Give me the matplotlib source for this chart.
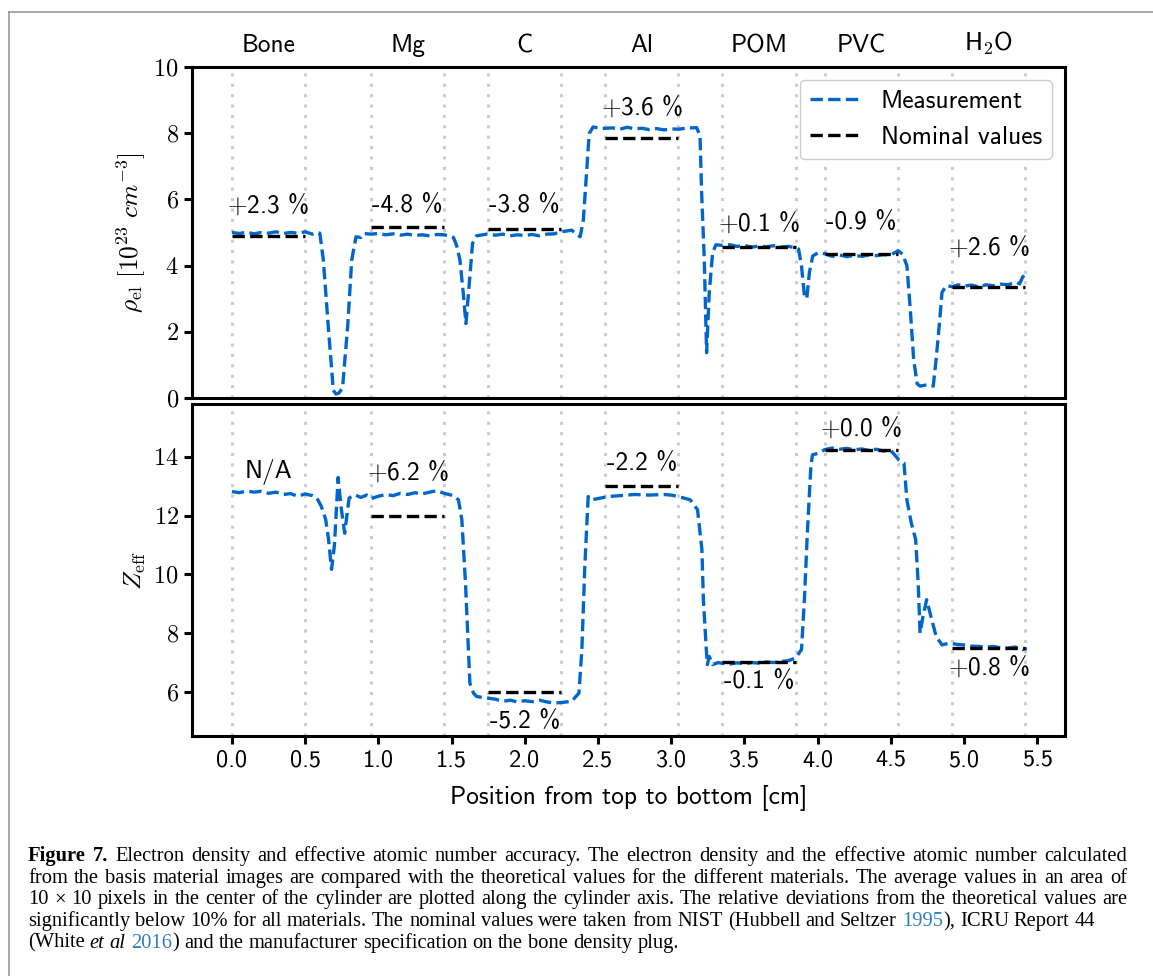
import numpy as np
import matplotlib
matplotlib.use("Agg")
import matplotlib.pyplot as plt
from matplotlib.ticker import FuncFormatter
from matplotlib.lines import Line2D

plt.rcParams['mathtext.fontset'] = 'cm'
plt.rcParams['font.family'] = ['cmss10', 'DejaVu Sans']
plt.rcParams['axes.unicode_minus'] = False

# material slabs along the cylinder axis [cm]
materials = ['Bone', 'Mg', 'C', 'Al', 'POM', 'PVC', r'H$_\mathsf{2}$O']
seg_start = np.array([0.0, 0.95, 1.75, 2.55, 3.35, 4.05, 4.92])
seg_end = seg_start + 0.5

rho_nominal = [4.89, 5.18, 5.12, 7.87, 4.57, 4.34, 3.36]
z_nominal = [np.nan, 12.0, 6.0, 13.0, 7.03, 14.23, 7.51]

rho_dev = ['+2.3 %', '-4.8 %', '-3.8 %', '+3.6 %', '+0.1 %', '-0.9 %', '+2.6 %']
z_dev = ['N/A', '+6.2 %', '-5.2 %', '-2.2 %', '-0.1 %', '+0.0 %', '+0.8 %']
rho_dev_y = [5.83, 5.83, 5.83, 8.79, 5.29, 5.29, 4.56]
z_dev_y = [13.48, 13.48, 5.0, 13.76, 6.37, 15.0, 6.85]

x_rho = [0.00, 0.05, 0.10, 0.15, 0.20, 0.25, 0.30, 0.35, 0.40, 0.45, 0.50, 0.55, 0.58, 0.60,
         0.624, 0.658, 0.692, 0.71, 0.73, 0.755, 0.79, 0.818, 0.847, 0.88, 0.90, 0.95, 1.00,
         1.05, 1.10, 1.15, 1.20, 1.25, 1.30, 1.35, 1.40, 1.45, 1.50, 1.513, 1.535, 1.557, 1.58,
         1.598, 1.625, 1.643, 1.67, 1.74, 1.80, 1.85, 1.90, 1.95, 2.00, 2.05, 2.10, 2.15, 2.20,
         2.25, 2.32, 2.378, 2.40, 2.42, 2.44, 2.467, 2.52, 2.60, 2.65, 2.70, 2.75, 2.80, 2.85,
         2.90, 2.95, 3.00, 3.05, 3.10, 3.174, 3.197, 3.208, 3.226, 3.242, 3.26, 3.283, 3.306,
         3.35, 3.40, 3.45, 3.50, 3.55, 3.60, 3.65, 3.70, 3.75, 3.80, 3.85, 3.87, 3.89, 3.91,
         3.926, 3.944, 3.967, 4.00, 4.05, 4.10, 4.15, 4.20, 4.25, 4.30, 4.35, 4.40, 4.45, 4.50,
         4.55, 4.58, 4.61, 4.633, 4.656, 4.68, 4.70, 4.75, 4.79, 4.81, 4.835, 4.85, 4.88, 4.92,
         4.96, 5.00, 5.05, 5.10, 5.15, 5.20, 5.25, 5.30, 5.357, 5.38, 5.40, 5.43]
rho_meas = [5.00, 4.97, 5.01, 4.96, 5.00, 4.98, 5.02, 4.97, 5.00, 4.98, 5.02, 4.95, 5.00, 4.98,
            4.17, 2.15, 0.24, 0.12, 0.15, 0.30, 2.15, 4.17, 4.87, 4.85, 4.97, 4.95, 4.97,
            4.93, 4.96, 4.92, 4.95, 4.91, 4.93, 4.90, 4.94, 4.93, 4.88, 4.85, 4.60, 4.17, 3.16,
            2.25, 3.67, 4.67, 4.90, 4.95, 4.92, 4.95, 4.90, 4.93, 4.91, 4.94, 4.90, 4.95, 4.96,
            5.02, 5.07, 4.87, 5.37, 6.68, 7.99, 8.19, 8.14, 8.16, 8.12, 8.18, 8.13, 8.15, 8.11,
            8.14, 8.10, 8.13, 8.12, 8.15, 8.17, 7.92, 6.20, 4.19, 1.37, 3.18, 4.39, 4.63,
            4.61, 4.63, 4.58, 4.61, 4.56, 4.59, 4.57, 4.60, 4.56, 4.58, 4.54, 4.50, 4.00, 3.10,
            3.00, 3.79, 4.29, 4.38, 4.36, 4.28, 4.32, 4.27, 4.31, 4.28, 4.32, 4.30, 4.33, 4.32,
            4.45, 4.35, 4.00, 2.69, 1.18, 0.43, 0.36, 0.40, 0.36, 1.18, 2.39, 3.19, 3.40, 3.36,
            3.42, 3.38, 3.41, 3.36, 3.42, 3.39, 3.44, 3.42, 3.50, 3.45, 3.65, 3.78]

x_z = [0.00, 0.05, 0.10, 0.15, 0.20, 0.25, 0.30, 0.35, 0.40, 0.45, 0.50, 0.55, 0.58, 0.61,
       0.64, 0.66, 0.68, 0.70, 0.725, 0.745, 0.77, 0.80, 0.84, 0.88, 0.92, 0.95, 1.00, 1.05,
       1.10, 1.15, 1.20, 1.25, 1.30, 1.35, 1.40, 1.45, 1.513, 1.547, 1.57, 1.595, 1.61, 1.625,
       1.65, 1.67, 1.70, 1.75, 1.80, 1.85, 1.90, 1.95, 2.00, 2.05, 2.10, 2.15, 2.20, 2.25,
       2.32, 2.37, 2.39, 2.41, 2.433, 2.455, 2.50, 2.57, 2.65, 2.75, 2.85, 2.95, 3.00, 3.05,
       3.13, 3.18, 3.21, 3.22, 3.24, 3.247, 3.26, 3.283, 3.32, 3.35, 3.40, 3.45, 3.50, 3.55,
       3.60, 3.65, 3.70, 3.75, 3.80, 3.85, 3.89, 3.91, 3.93, 3.954, 3.965, 4.01, 4.05, 4.10,
       4.15, 4.20, 4.25, 4.30, 4.35, 4.40, 4.45, 4.50, 4.555, 4.59, 4.61, 4.64, 4.67, 4.687,
       4.70, 4.72, 4.745, 4.78, 4.81, 4.85, 4.90, 4.95, 5.00, 5.05, 5.10, 5.15, 5.20, 5.25,
       5.30, 5.35, 5.40, 5.43]
z_meas = [12.82, 12.78, 12.84, 12.80, 12.83, 12.76, 12.80, 12.72, 12.75, 12.66, 12.74, 12.68, 12.60, 12.32,
          11.87, 11.19, 10.17, 11.00, 13.30, 12.30, 11.40, 12.60, 12.71, 12.62, 12.70, 12.58, 12.66, 12.72,
          12.68, 12.76, 12.72, 12.78, 12.74, 12.80, 12.85, 12.76, 12.68, 12.54, 11.87, 9.71, 8.00, 6.30,
          5.96, 5.85, 5.82, 5.79, 5.75, 5.68, 5.72, 5.66, 5.70, 5.67, 5.72, 5.66, 5.62, 5.64,
          5.68, 5.96, 7.44, 10.27, 12.65, 12.54, 12.58, 12.65, 12.68, 12.72, 12.70, 12.72, 12.70, 12.65,
          12.54, 12.20, 10.84, 9.14, 7.44, 6.93, 7.21, 6.93, 7.00, 6.97, 6.95, 6.99, 6.96, 7.00,
          6.98, 7.02, 7.00, 7.04, 7.06, 7.16, 7.44, 9.14, 11.40, 13.67, 14.07, 14.13, 14.25, 14.30,
          14.26, 14.29, 14.24, 14.27, 14.22, 14.26, 14.20, 14.22, 13.90, 13.79, 12.54, 11.75, 11.19, 9.71,
          8.00, 8.57, 9.14, 8.45, 7.89, 7.60, 7.66, 7.62, 7.60, 7.56, 7.55, 7.52, 7.55, 7.50,
          7.49, 7.53, 7.44, 7.48]

caption = [
    [("Figure 7.", {'weight': 'bold'}),
     (" Electron density and effective atomic number accuracy. The electron density and the effective atomic number calculated", {})],
    [("from the basis material images are compared with the theoretical values for the different materials. The average values in an area of", {})],
    [("10 \u00d7 10 pixels in the center of the cylinder are plotted along the cylinder axis. The relative deviations from the theoretical values are", {})],
    [("significantly below 10% for all materials. The nominal values were taken from NIST (Hubbell and Seltzer ", {}),
     ("1995", {'color': '#2f7fc0'}), ("), ICRU Report 44", {})],
    [("(White ", {}), ("et al", {'style': 'italic'}), (" ", {}), ("2016", {'color': '#2f7fc0'}),
     (") and the manufacturer specification on the bone density plug.", {})],
]
caption_width = [1099, 1099, 1099, 1067, None]

W, H = 1153, 976
blue = '#0066cc'
fs = 18.3

fig = plt.figure(figsize=(W / 100, H / 100), dpi=100)
ax1 = fig.add_axes([192 / W, 1 - 398 / H, 873 / W, 331 / H])
ax2 = fig.add_axes([192 / W, 1 - 736 / H, 873 / W, 332 / H], sharex=ax1)


def pct(s):
    if s[0] == '+':
        return '$+$' + s[1:]
    return s


for ax, meas, xm, nom, dev, dev_y in [(ax1, rho_meas, x_rho, rho_nominal, rho_dev, rho_dev_y),
                                      (ax2, z_meas, x_z, z_nominal, z_dev, z_dev_y)]:
    for a, b in zip(seg_start, seg_end):
        ax.axvline(a, color='#cccccc', lw=2.2, ls=(0, (1, 2.4)), zorder=0)
        ax.axvline(b, color='#cccccc', lw=2.2, ls=(0, (1, 2.4)), zorder=0)
    ax.plot(xm, meas, '--', color=blue, lw=2.4, label='Measurement', zorder=2)
    ax.hlines(nom, seg_start, seg_end, colors='black', linestyles='--', lw=2.4,
              label='Nominal values', zorder=3)
    for a, b, s, yy in zip(seg_start, seg_end, dev, dev_y):
        ax.text((a + b) / 2, yy, pct(s), ha='center', va='center', fontsize=fs)
    for sp in ax.spines.values():
        sp.set_linewidth(2.2)
    ax.tick_params(width=2.2, length=6, labelsize=17.5)
    ax.yaxis.set_major_formatter(FuncFormatter(lambda v, p: r'$%g$' % v))

ax1.set_xlim(-0.273, 5.69)
ax1.set_ylim(0, 10)
ax1.set_yticks([0, 2, 4, 6, 8, 10])
ax2.set_ylim(4.5, 15.8)
ax2.set_yticks([6, 8, 10, 12, 14])
ax2.set_xticks(np.arange(0, 5.51, 0.5))
ax2.xaxis.set_major_formatter(FuncFormatter(lambda v, p: '%.1f' % v))
ax1.tick_params(bottom=False, labelbottom=False)

top = ax1.secondary_xaxis('top')
top.set_xticks((seg_start + seg_end) / 2, labels=materials)
top.tick_params(length=0, pad=7, labelsize=fs)
top.spines['top'].set_visible(False)

ax1.set_ylabel(r'$\rho_{\mathrm{el}}\ [10^{23}\ cm^{-3}]$', fontsize=fs)
ax2.set_ylabel(r'$Z_{\mathrm{eff}}$', fontsize=fs)
ax2.set_xlabel('Position from top to bottom [cm]', fontsize=fs, labelpad=10)
fig.align_ylabels([ax1, ax2])

ax1.legend(loc='upper right', fontsize=fs, fancybox=True, framealpha=1, edgecolor='#cccccc')

# page frame
fig.add_artist(Line2D([9 / W, 1], [1 - 12 / H, 1 - 12 / H], color='#999999', lw=1.2))
fig.add_artist(Line2D([9 / W, 9 / W], [0, 1 - 12 / H], color='#999999', lw=1.2))

# caption, justified line by line
renderer = fig.canvas.get_renderer()
cap_font = dict(family='Liberation Serif', fontsize=10, va='baseline')


def width_of(t):
    return t.get_window_extent(renderer).width


# pick the font size so the full lines just fit
ratios = []
for segs, target in zip(caption[:3], caption_width[:3]):
    t = fig.text(0, 0, ''.join(s for s, _ in segs), **cap_font)
    ratios.append(0.99 * target / width_of(t))
    t.remove()
cap_font['fontsize'] = 10 * min(ratios)

probe = [fig.text(0, 0, s, **cap_font) for s in ('x x', 'xx')]
space_w = width_of(probe[0]) - width_of(probe[1])
for t in probe:
    t.remove()

left = 28
baseline = 861
for segs, target in zip(caption, caption_width):
    words = [[]]
    for s, st in segs:
        parts = s.split(' ')
        for i, p in enumerate(parts):
            if i > 0:
                words.append([])
            if p:
                words[-1].append((p, st))
    words = [w for w in words if w]
    arts, widths = [], []
    for w in words:
        pieces = []
        for s, st in w:
            t = fig.text(0, 0, s, **cap_font, **st)
            pieces.append((t, width_of(t)))
        arts.append(pieces)
        widths.append(sum(pw for _, pw in pieces))
    gap = space_w if target is None else (target - sum(widths)) / (len(words) - 1)
    x = left
    for pieces, w in zip(arts, widths):
        xx = x
        for t, pw in pieces:
            t.set_position((xx / W, 1 - baseline / H))
            xx += pw
        x += w + gap
    baseline += 21.7

fig.savefig('out.png', dpi=100)
